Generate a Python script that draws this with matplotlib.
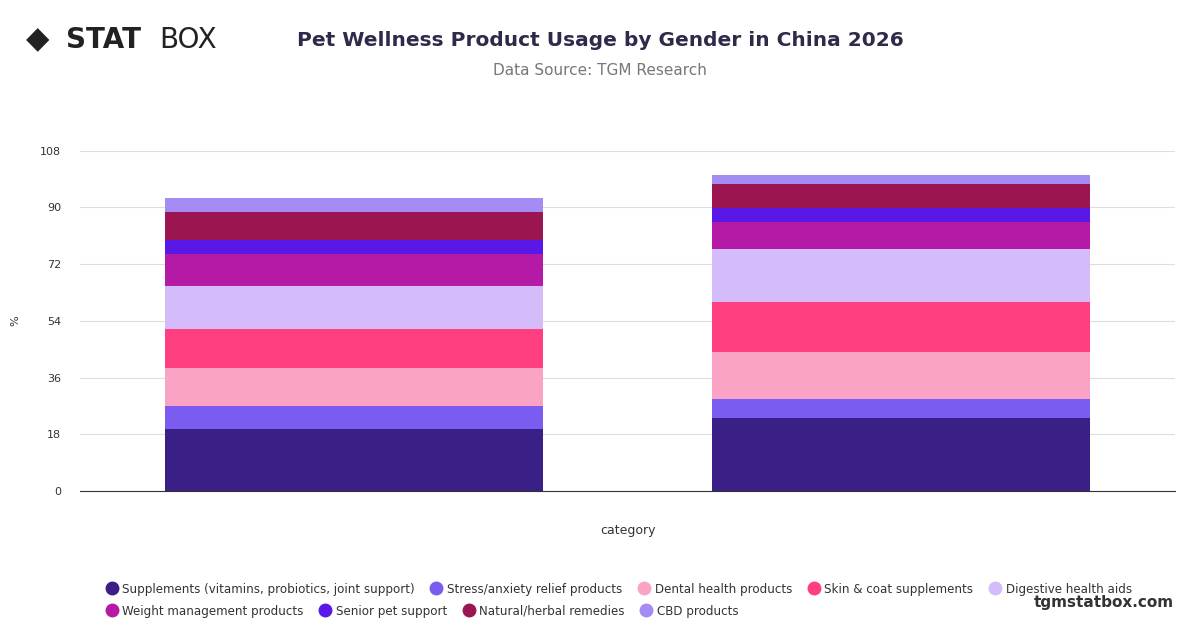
import matplotlib
matplotlib.use("Agg")
import matplotlib.pyplot as plt
from matplotlib.lines import Line2D
import numpy as np

categories = ["", ""]
series = ["Supplements (vitamins, probiotics, joint support)", "Stress/anxiety relief products",
          "Dental health products", "Skin & coat supplements", "Digestive health aids",
          "Weight management products", "Senior pet support", "Natural/herbal remedies", "CBD products"]
values = [
    [19.7, 23.2],
    [7.3, 6.0],
    [12.1, 15.0],
    [12.4, 15.8],
    [13.6, 16.9],
    [10.2, 8.5],
    [4.4, 4.5],
    [8.9, 7.6],
    [4.4, 2.9],
]
colors = ["#3a1f86", "#7b5cf0", "#fba3c4", "#ff3f80", "#d4bcfb",
          "#b51aa6", "#5a18e8", "#9b1650", "#a58cf4"]
yticks = [0, 18, 36, 54, 72, 90, 108]

fig = plt.figure(figsize=(12, 6.28), dpi=100)
ax = fig.add_axes([0.067, 0.218, 0.912, 0.542])
x = np.arange(len(categories))
bottom = np.zeros(len(categories))
for s, v, c in zip(series, values, colors):
    ax.bar(x, v, 0.69, bottom=bottom, color=c, label=s, zorder=3)
    bottom += np.array(v)
ax.set_xlim(-0.5, 1.5)
ax.set_ylim(0, 108)
ax.set_yticks(yticks)
ax.set_xticks(x)
ax.set_xticklabels(categories)
ax.tick_params(axis="y", length=0, labelsize=8, colors="#333333", pad=14)
ax.tick_params(axis="x", length=0)
ax.grid(axis="y", color="#dddddd", lw=0.8, zorder=0)
for sp in ["top", "right", "left"]:
    ax.spines[sp].set_visible(False)
ax.spines["bottom"].set_color("#333333")
ax.set_ylabel("%", fontsize=8, color="#333333", labelpad=14)
ax.set_xlabel("category", fontsize=9, color="#333333", labelpad=20)

fig.text(0.5, 0.935, "Pet Wellness Product Usage by Gender in China 2026", ha="center",
         va="center", fontsize=14.5, fontweight="bold", color="#2d2a4a")
fig.text(0.5, 0.887, "Data Source: TGM Research", ha="center", va="center", fontsize=11, color="#777777")
fig.text(0.022, 0.937, "◆", fontsize=22, color="#222222", va="center")
fig.text(0.055, 0.937, "STAT", fontsize=20, fontweight="bold", color="#222222", va="center")
fig.text(0.133, 0.937, "BOX", fontsize=20, color="#222222", va="center")
fig.text(0.978, 0.033, "tgmstatbox.com", ha="right", fontsize=11, fontweight="bold", color="#333333")

h = [Line2D([], [], marker="o", ls="", color=c, markersize=9) for c in colors]
kw = dict(frameon=False, fontsize=8.6, handlelength=1, columnspacing=1.3, handletextpad=0.4,
          labelcolor="#333333")
fig.legend(h[:5], series[:5], loc="center left", bbox_to_anchor=(0.079, 0.062), ncol=5, **kw)
fig.legend(h[5:], series[5:], loc="center left", bbox_to_anchor=(0.079, 0.027), ncol=4, **kw)
fig.savefig("out.png", dpi=100)
